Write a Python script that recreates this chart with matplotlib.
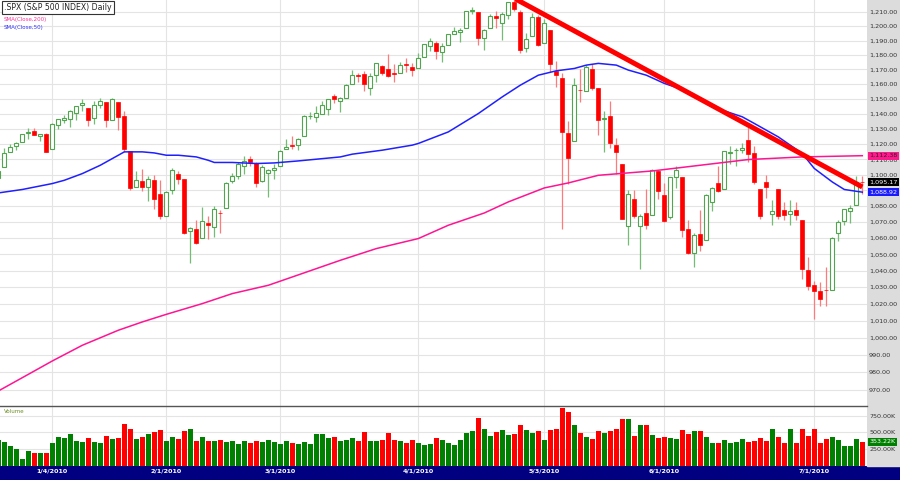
import numpy as np
import matplotlib
matplotlib.use('Agg')
import matplotlib.pyplot as plt
import matplotlib.transforms as mtrans
from matplotlib.patches import Rectangle
from matplotlib.ticker import FixedLocator, FixedFormatter, NullLocator

# daily bars, the first one sits just off the left edge
opens = [1097.9, 1105.3, 1114.5, 1118.8, 1121.1, 1127.5, 1128.6, 1125.5, 1126.6,
         # jan
         1116.6, 1132.7, 1135.7, 1136.3, 1140.5, 1146.0, 1143.8, 1137.3, 1145.7, 1147.7,
         1136.0, 1148.0, 1138.7, 1115.5, 1092.4, 1095.8, 1091.9, 1096.9, 1087.6,
         # feb
         1073.9, 1090.1, 1100.7, 1097.3, 1064.1, 1065.5, 1060.1, 1069.7, 1067.1, 1076.0,
         1079.1, 1096.1, 1099.0, 1105.5, 1110.0, 1107.5, 1095.9, 1101.2, 1103.1,
         # mar
         1105.4, 1117.0, 1119.4, 1119.1, 1125.1, 1138.4, 1137.6, 1140.2, 1143.0, 1151.7,
         1148.5, 1150.8, 1159.9, 1166.1, 1166.7, 1157.3, 1166.5, 1172.7, 1170.0, 1167.6,
         1167.7, 1173.8, 1171.8,
         # apr
         1171.2, 1178.7, 1186.0, 1188.2, 1181.8, 1187.1, 1194.9, 1195.9, 1198.7, 1210.8,
         1210.2, 1192.1, 1199.0, 1207.2, 1202.5, 1207.9, 1217.1, 1209.9, 1184.6, 1193.3, 1206.8,
         # may
         1188.6, 1197.5, 1169.2, 1164.4, 1127.0, 1122.3, 1156.2, 1155.4, 1170.0, 1157.2,
         1136.5, 1138.8, 1119.6, 1107.3, 1067.3, 1084.8, 1067.4, 1075.5, 1074.3, 1102.6,
         # jun
         1087.3, 1073.0, 1098.8, 1098.4, 1065.8, 1050.8, 1062.8, 1058.8, 1082.7, 1095.0,
         1091.2, 1114.0, 1116.0, 1116.2, 1122.8,
         1113.9, 1090.9, 1095.6, 1075.1, 1090.9, 1077.5, 1075.1, 1077.5, 1071.1, 1040.6,
         # jul
         1031.1, 1027.7, 1028.2, 1028.5, 1062.9, 1070.5, 1077.2, 1080.7, 1095.6]
highs = [1102.5, 1117.7, 1120.3, 1121.6, 1126.5, 1130.4, 1130.4, 1126.4, 1127.6,
         1133.9, 1136.6, 1139.2, 1142.5, 1145.4, 1149.7, 1143.8, 1148.4, 1150.4, 1147.8,
         1150.5, 1148.0, 1141.6, 1115.5, 1102.7, 1103.7, 1099.5, 1100.2, 1096.5,
         1089.4, 1104.7, 1102.7, 1097.3, 1067.1, 1071.2, 1079.3, 1073.7, 1080.0, 1077.8,
         1095.1, 1101.0, 1108.2, 1112.4, 1112.3, 1108.6, 1106.4, 1103.5, 1107.2,
         1116.1, 1123.5, 1125.6, 1123.7, 1139.4, 1141.1, 1145.4, 1148.3, 1150.2, 1153.4,
         1151.0, 1160.3, 1169.8, 1167.8, 1169.2, 1167.8, 1174.7, 1173.0, 1180.7, 1173.9,
         1174.9, 1177.8, 1174.6,
         1181.4, 1187.7, 1191.8, 1189.6, 1188.6, 1194.7, 1199.2, 1199.0, 1210.7, 1213.9,
         1210.2, 1197.9, 1208.6, 1211.0, 1210.3, 1217.3, 1219.8, 1211.4, 1195.1, 1209.4, 1208.0,
         1205.1, 1197.5, 1176.0, 1167.6, 1135.1, 1163.9, 1170.5, 1172.9, 1173.6, 1157.2,
         1141.9, 1148.7, 1124.3, 1107.3, 1090.2, 1090.0, 1074.8, 1090.8, 1103.5, 1102.6,
         1094.8, 1098.6, 1105.7, 1098.4, 1071.4, 1063.2, 1077.7, 1087.9, 1092.3, 1105.9,
         1115.6, 1118.7, 1117.7, 1121.0, 1131.2,
         1118.5, 1090.9, 1099.6, 1083.6, 1090.9, 1082.6, 1083.6, 1082.6, 1071.1, 1048.1,
         1033.6, 1033.0, 1042.5, 1060.9, 1071.3, 1078.2, 1080.8, 1099.5, 1099.1]
lows = [1093.2, 1105.3, 1114.5, 1116.0, 1121.1, 1123.5, 1126.1, 1121.9, 1114.8,
        1116.6, 1129.7, 1133.9, 1131.3, 1136.2, 1142.0, 1131.8, 1133.2, 1143.8, 1131.4,
        1135.8, 1129.3, 1114.8, 1090.2, 1092.4, 1089.9, 1083.1, 1078.5, 1071.6,
        1073.9, 1088.0, 1093.9, 1062.8, 1044.5, 1056.5, 1060.1, 1059.3, 1060.6, 1063.0,
        1079.1, 1094.7, 1097.6, 1100.8, 1105.4, 1092.2, 1095.5, 1086.0, 1097.6,
        1105.4, 1116.5, 1116.6, 1116.1, 1125.1, 1136.8, 1134.9, 1140.1, 1138.9, 1147.0,
        1141.5, 1150.4, 1159.9, 1161.2, 1155.3, 1152.9, 1161.5, 1166.0, 1165.1, 1161.5,
        1167.7, 1168.0, 1165.8,
        1170.7, 1178.7, 1182.8, 1177.3, 1175.1, 1187.1, 1194.7, 1188.8, 1198.7, 1208.5,
        1186.8, 1183.7, 1199.0, 1198.9, 1190.2, 1205.1, 1211.1, 1181.6, 1181.8, 1193.3, 1186.3,
        1188.6, 1168.1, 1158.2, 1065.8, 1094.2, 1122.3, 1147.7, 1155.4, 1156.1, 1126.1,
        1115.0, 1117.2, 1100.7, 1071.6, 1055.9, 1072.7, 1040.8, 1065.6, 1074.3, 1084.8,
        1069.9, 1072.0, 1091.8, 1060.5, 1049.9, 1042.2, 1052.3, 1058.8, 1077.1, 1089.0,
        1091.2, 1107.1, 1105.9, 1113.9, 1108.2,
        1094.2, 1071.6, 1085.3, 1067.9, 1071.6, 1071.5, 1067.9, 1071.5, 1035.2, 1028.3,
        1010.9, 1018.4, 1018.4, 1028.5, 1058.2, 1068.1, 1069.5, 1080.7, 1087.7]
closes = [1102.5, 1114.1, 1118.0, 1120.6, 1126.5, 1127.8, 1126.2, 1126.4, 1115.1,
          1133.0, 1136.5, 1137.1, 1141.7, 1145.0, 1147.0, 1136.2, 1145.7, 1148.5, 1136.0,
          1150.2, 1138.0, 1116.5, 1091.8, 1096.8, 1092.2, 1097.5, 1084.5, 1073.9,
          1089.2, 1103.3, 1097.3, 1063.1, 1066.2, 1056.7, 1070.5, 1068.1, 1078.5, 1075.5,
          1094.9, 1099.5, 1106.8, 1109.2, 1108.0, 1094.6, 1105.2, 1102.9, 1104.5,
          1115.7, 1118.3, 1118.8, 1123.0, 1138.7, 1138.5, 1140.5, 1145.6, 1150.2, 1150.0,
          1150.5, 1159.5, 1166.2, 1165.8, 1159.9, 1165.8, 1174.2, 1167.7, 1165.7, 1166.6,
          1173.2, 1173.3, 1169.4,
          1178.1, 1187.4, 1189.4, 1182.5, 1186.4, 1194.4, 1196.5, 1197.3, 1210.7, 1211.7,
          1192.1, 1197.5, 1207.2, 1205.9, 1208.7, 1217.3, 1212.1, 1183.7, 1191.4, 1206.8, 1186.7,
          1202.3, 1173.6, 1165.9, 1128.2, 1110.9, 1159.7, 1155.8, 1171.7, 1157.4, 1135.7,
          1136.9, 1120.8, 1115.1, 1071.6, 1087.7, 1073.7, 1074.0, 1068.0, 1103.1, 1089.4,
          1070.7, 1098.4, 1102.8, 1064.9, 1050.5, 1062.0, 1055.7, 1086.8, 1091.6, 1089.6,
          1115.2, 1114.6, 1116.1, 1117.5, 1113.2,
          1095.3, 1073.7, 1092.0, 1076.8, 1073.7, 1074.6, 1076.8, 1074.6, 1041.2, 1030.7,
          1027.4, 1022.6, 1028.1, 1060.3, 1070.3, 1078.0, 1078.8, 1095.3, 1095.2]
# volume in K
volumes = [380,
           347, 292, 252, 92, 212, 192, 182, 182, 332, 432,
           412, 467, 372, 352, 407, 352, 342, 442, 402, 407,
           617, 552, 392, 422, 472, 502, 532, 362, 422, 392,
           522, 552, 362, 432, 372, 372, 382, 352, 372, 322,
           362, 332, 372, 352, 382, 352, 322, 362, 342, 327,
           352, 322, 467, 472, 412, 432, 362, 382, 412, 362,
           502, 362, 372, 382, 482, 382, 362, 342, 382, 332,
           302, 322, 412, 382, 342,
           312, 382, 492, 512, 712, 552, 442, 502, 532, 462,
           472, 612, 532, 482, 512, 382, 532, 542, 862, 802,
           602, 482, 432, 402, 512, 482, 512, 552, 692, 702,
           442, 612, 602, 462, 412, 422, 412, 402, 532, 472,
           522, 512, 432, 332, 342, 382, 342, 352, 392, 352,
           362, 412, 372, 552, 422, 342, 552, 342, 542, 442,
           552, 332, 402, 422, 382, 292, 292, 402, 352]

date_ticks = [8, 27, 46, 69, 90, 110, 135]
date_labels = ['1/4/2010', '2/1/2010', '3/1/2010', '4/1/2010', '5/3/2010', '6/1/2010', '7/1/2010']

sma50_x = [-1, 3, 8, 10, 13, 16, 19, 20, 23, 25, 27, 29, 32, 34, 35, 38, 42, 45, 49, 56, 58,
           63, 68, 69, 74, 79, 83, 86, 89, 92, 95, 97, 99, 102, 104, 107, 110, 113, 118, 123,
           125, 129, 133, 135, 138, 140, 143]
sma50_y = [1088.4, 1090.6, 1094.4, 1096.5, 1100.8, 1106.2, 1112.7, 1114.9, 1114.9, 1114.2,
           1112.7, 1112.7, 1111.6, 1109.4, 1108.0, 1108.0, 1107.3, 1107.7, 1109.0, 1111.6,
           1113.4, 1116.0, 1119.3, 1120.4, 1128.0, 1140.2, 1151.4, 1159.3, 1166.1, 1169.1,
           1170.7, 1173.0, 1174.2, 1173.0, 1169.6, 1166.1, 1160.5, 1156.4, 1144.7, 1138.0,
           1133.6, 1124.7, 1113.8, 1104.1, 1095.4, 1090.6, 1088.9]
sma200_x = [-1, 4, 8, 13, 19, 23, 27, 33, 38, 44, 49, 56, 62, 69, 74, 80, 84, 90, 94, 99,
            108, 116, 124, 133, 143]
sma200_y = [969.2, 978.7, 986.4, 995.5, 1004.3, 1009.2, 1013.7, 1020.1, 1026.1, 1031.1,
            1037.4, 1046.3, 1053.5, 1059.7, 1068.0, 1075.7, 1082.7, 1091.6, 1094.8, 1099.7,
            1102.5, 1106.2, 1109.9, 1111.6, 1112.4]
trend_x = [85, 143]
trend_y = [1219.8, 1092.2]

price_ticks = list(range(970, 1211, 10))
vol_ticks = [250, 500, 750]
last_close = 1095.17
last_sma50 = 1088.92
last_sma200 = 1112.38
last_vol = 353.22

W, H = 900, 480
fig = plt.figure(figsize=(9, 4.8), dpi=100)
fig.add_artist(Rectangle((0, 0), 1, 14 / H, transform=fig.transFigure,
                         color='#000080', zorder=-1))
fig.add_artist(Rectangle((867 / W, 14 / H), 33 / W, 466 / H, transform=fig.transFigure,
                         color='#dcdcdc', zorder=-1))

o, h, l, c = map(np.array, (opens, highs, lows, closes))
x = np.arange(len(o)) - 1
up = c >= o
xlim = (-0.72, 143.78)

# price panel
ax = fig.add_axes([0, 74.5 / H, 867 / W, 405.5 / H])
ax.set_yscale('log')
ax.vlines(x, l, h, colors=np.where(up, '#74bb74', '#ff7b7b'), lw=0.9, zorder=2)
lo = np.minimum(o, c)
hgt = np.abs(c - o)
ax.bar(x[up], hgt[up], bottom=lo[up], width=0.72, facecolor='white',
       edgecolor='#4fa64f', lw=0.8, zorder=3)
ax.bar(x[~up], hgt[~up], bottom=lo[~up], width=0.72, facecolor='#ff0000',
       edgecolor='#ff0000', lw=0.5, zorder=3)
ax.plot(sma200_x, sma200_y, color='#ff1493', lw=1.1, zorder=4)
ax.plot(sma50_x, sma50_y, color='#2020ff', lw=1.1, zorder=4)
ax.plot(trend_x, trend_y, color='#ff0000', lw=3.6, solid_capstyle='butt', zorder=5)
ax.set_xlim(*xlim)
ax.set_ylim(961, 1218.6)
ax.yaxis.set_major_locator(FixedLocator(price_ticks))
ax.yaxis.set_major_formatter(FixedFormatter([f'{v:,.2f}' for v in price_ticks]))
ax.yaxis.set_minor_locator(NullLocator())
ax.yaxis.tick_right()
ax.tick_params(axis='y', length=0, pad=1.5, labelsize=4.6, labelcolor='#333333')
ax.set_xticks(date_ticks)
ax.tick_params(axis='x', length=0, labelbottom=False)
ax.grid(True, color='#e4e4e4', lw=0.8)
ax.set_axisbelow(True)
for s in ax.spines.values():
    s.set_visible(False)

tr = mtrans.blended_transform_factory(ax.transAxes, ax.transData)
for val, fc, tc in [(last_sma200, '#ff1a8c', '#222222'), (last_close, '#000000', 'white'),
                    (last_sma50, '#1a1aff', 'white')]:
    ax.text(1 + 2.5 / 867, val, f'{val:,.2f}', transform=tr, fontsize=4.6, color=tc,
            va='center', ha='left', clip_on=False,
            bbox=dict(boxstyle='square,pad=0.25', fc=fc, ec='none'))

# volume panel
axv = fig.add_axes([0, 14 / H, 867 / W, 60.5 / H])
axv.bar(x, volumes, width=0.78, color=np.where(up, '#008000', '#ff0000'), zorder=2)
axv.set_xlim(*xlim)
axv.set_ylim(-7.5, 900)
axv.set_yticks(vol_ticks)
axv.set_yticklabels([f'{v:.2f}K' for v in vol_ticks])
axv.yaxis.tick_right()
axv.tick_params(axis='y', length=0, pad=1.5, labelsize=4.6, labelcolor='#333333')
axv.set_xticks(date_ticks)
axv.set_xticklabels(date_labels, color='white', fontsize=4.6, fontweight='bold')
axv.tick_params(axis='x', length=0, pad=2)
axv.grid(True, color='#e4e4e4', lw=0.8)
axv.set_axisbelow(True)
for k, s in axv.spines.items():
    s.set_visible(k == 'top')
axv.spines['top'].set_color('#555555')
axv.spines['top'].set_linewidth(1.0)
axv.text(0.005, 0.9, 'Volume', transform=axv.transAxes, fontsize=4, color='#6b8e23',
         va='center')
trv = mtrans.blended_transform_factory(axv.transAxes, axv.transData)
axv.text(1 + 2.5 / 867, last_vol, f'{last_vol:.2f}K', transform=trv, fontsize=4.6,
         color='white', va='center', ha='left', clip_on=False,
         bbox=dict(boxstyle='square,pad=0.25', fc='#008000', ec='none'))

fig.text(4 / W, 1 - 7.5 / H, '.SPX (S&P 500 INDEX) Daily', fontsize=5.6, color='#222222',
         va='center', bbox=dict(boxstyle='square,pad=0.3', fc='white', ec='#333333', lw=0.8))
fig.text(4 / W, 1 - 19 / H, 'SMA(Close,200)', fontsize=4, color='#ff3399', va='center')
fig.text(4 / W, 1 - 27 / H, 'SMA(Close,50)', fontsize=4, color='#3333ff', va='center')

fig.savefig('out.png', dpi=100)
